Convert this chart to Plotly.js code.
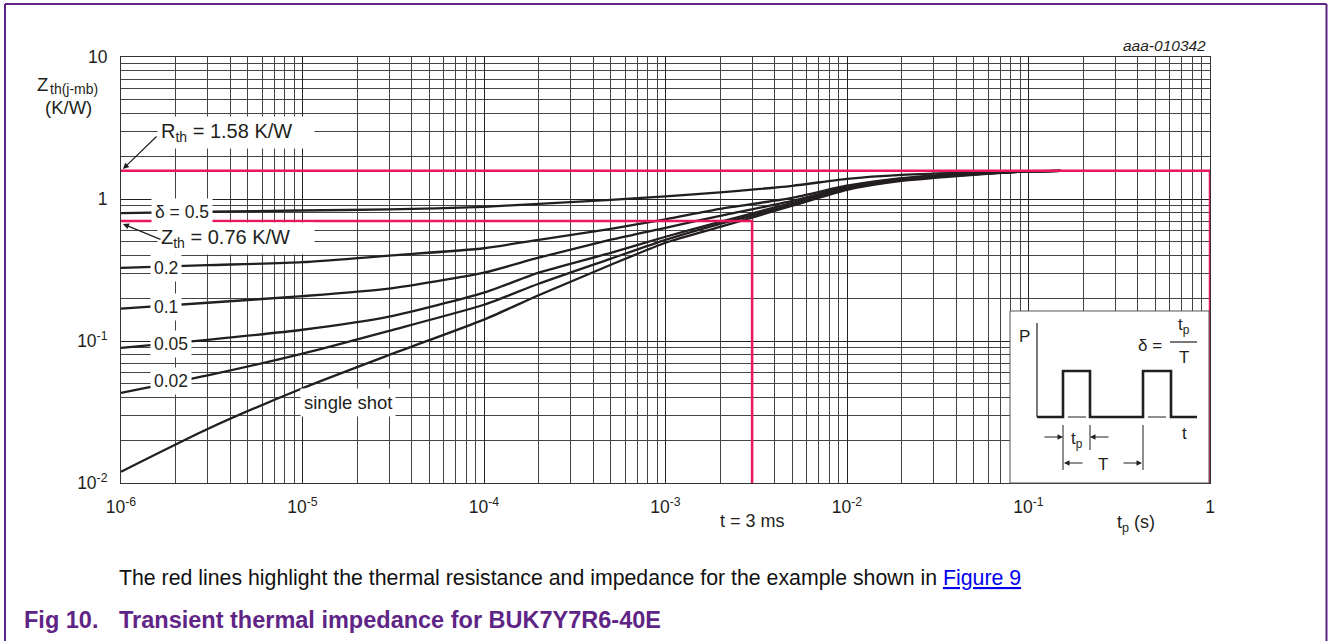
<!DOCTYPE html>
<html>
<head>
<meta charset="utf-8">
<script src="https://cdn.plot.ly/plotly-3.0.1.min.js"></script>
<style>
html,body{margin:0;padding:0;background:#fff;}
#chart{width:1328px;height:641px;}
</style>
</head>
<body>
<div id="chart"></div>
<script>
// ---- data ----
const tp = [1e-6, 3e-6, 1e-5, 3e-5, 1e-4, 2e-4, 5e-4, 1e-3, 2e-3, 5e-3, 1e-2, 2e-2, 5e-2, 1e-1, 1.5e-1];
const zSingleShot = [0.0120, 0.0240, 0.0465, 0.0797, 0.1415, 0.210, 0.344, 0.492, 0.637, 0.896, 1.16, 1.34, 1.48, 1.566, 1.58];
const zDelta002  = [0.0431, 0.0572, 0.0815, 0.118, 0.180, 0.253, 0.380, 0.516, 0.669, 0.910, 1.18, 1.36, 1.49, 1.566, 1.58];
const zDelta005  = [0.0894, 0.102, 0.120, 0.1485, 0.219, 0.303, 0.418, 0.542, 0.691, 0.940, 1.20, 1.38, 1.50, 1.566, 1.58];
const zDelta01   = [0.169, 0.186, 0.207, 0.234, 0.303, 0.386, 0.517, 0.627, 0.762, 0.970, 1.22, 1.39, 1.50, 1.566, 1.58];
const zDelta02   = [0.327, 0.342, 0.359, 0.399, 0.450, 0.516, 0.617, 0.720, 0.853, 1.02, 1.24, 1.40, 1.52, 1.566, 1.58];
const zDelta05   = [0.796, 0.813, 0.830, 0.844, 0.881, 0.925, 0.987, 1.044, 1.115, 1.239, 1.387, 1.479, 1.54, 1.57, 1.58];

const rthValue = 1.58;          // K/W
const zthLineValue = 0.70;      // level of the lower red line as drawn
const tExample = 3e-3;          // s
const tpMin = 1e-6, tpMax = 1;
const zMin = 0.01;

const xTickVals = [1e-6, 1e-5, 1e-4, 1e-3, 1e-2, 1e-1, 1];
const xTickText = ['10<sup>-6</sup>', '10<sup>-5</sup>', '10<sup>-4</sup>', '10<sup>-3</sup>', '10<sup>-2</sup>', '10<sup>-1</sup>', '1'];
const yTickVals = [0.01, 0.1, 1, 10];
const yTickText = ['10<sup>-2</sup>', '10<sup>-1</sup>', '1', '10'];

// ---- layout helpers (pixel -> paper) ----
const X0 = 121, X1 = 1210, Y0 = 57, Y1 = 483;
const px = x => (x - X0) / (X1 - X0);
const py = y => (Y1 - y) / (Y1 - Y0);

const FONT = 'Arial, "Liberation Sans", sans-serif';
const INK = '#231f20';
const RED = '#e8185a';
const PURPLE = '#5f2586';

const curveStyle = {color: INK, width: 2.3, shape: 'spline', smoothing: 0.6};
const series = [zSingleShot, zDelta002, zDelta005, zDelta01, zDelta02, zDelta05];
const traces = series.map(v => ({
  x: tp, y: v, type: 'scatter', mode: 'lines', line: curveStyle, hoverinfo: 'skip', showlegend: false
}));
traces.push({x: [tpMin, tpMax, tpMax], y: [rthValue, rthValue, zMin], type: 'scatter', mode: 'lines',
  line: {color: RED, width: 2.5}, hoverinfo: 'skip', showlegend: false});
traces.push({x: [tpMin, tExample, tExample], y: [zthLineValue, zthLineValue, zMin], type: 'scatter', mode: 'lines',
  line: {color: RED, width: 2.5}, hoverinfo: 'skip', showlegend: false});

function label(text, x, y, opts) {
  return Object.assign({
    text: text, xref: 'paper', yref: 'paper', x: px(x), y: py(y),
    xanchor: 'center', yanchor: 'middle', showarrow: false,
    font: {family: FONT, size: 17.5, color: INK}
  }, opts || {});
}
function arrow(hx, hy, tx, ty, w) {
  return {text: '', xref: 'paper', yref: 'paper', x: px(hx), y: py(hy),
    ax: tx - hx, ay: ty - hy, showarrow: true, arrowhead: 2, arrowsize: 1,
    arrowwidth: w || 1.2, arrowcolor: INK, standoff: 0};
}
const boxed = {bgcolor: '#ffffff', borderpad: 3};
const f = s => ({family: FONT, size: s, color: INK});

const annotations = [
  label('Z', 35, 85, {xanchor: 'left', font: f(18.5)}),
  label('th(j-mb)', 48, 89, {xanchor: 'left', font: f(14)}),
  label('(K/W)', 68, 107, {font: f(18.5)}),
  label('<i>aaa-010342</i>', 1208, 45, {xanchor: 'right', font: f(15.5)}),
  label('R<sub>th</sub> = 1.58 K/W', 157, 132, Object.assign({xanchor: 'left', width: 150, align: 'left', font: f(20)}, boxed)),
  label('Z<sub>th</sub> = 0.76 K/W', 157, 238, Object.assign({xanchor: 'left', width: 150, align: 'left', font: f(20)}, boxed)),
  label('δ = 0.5', 182, 212, boxed),
  label('0.2', 166, 268, boxed),
  label('0.1', 166, 307, boxed),
  label('0.05', 171, 344, boxed),
  label('0.02', 171, 381, boxed),
  label('single shot', 348, 402, Object.assign({font: f(18.5)}, boxed)),
  arrow(123, 169, 158, 135),
  arrow(123, 224, 162, 240),
  label('t = 3 ms', 752, 521, {font: f(18)}),
  label('t<sub>p</sub> (s)', 1136, 523, {font: f(18)}),
  // inset texts
  label('P', 1024, 336, {font: f(17)}),
  label('δ =', 1150, 345, {font: f(17)}),
  label('t<sub>p</sub>', 1184, 326, {font: f(17)}),
  label('T', 1184, 357, {font: f(17)}),
  label('t', 1184, 433, {font: f(17)}),
  label('t<sub>p</sub>', 1077, 440, {font: f(17)}),
  label('T', 1103, 464, {font: f(17)}),
  arrow(1063, 437, 1043, 437, 1.1),
  arrow(1090, 437, 1110, 437, 1.1),
  arrow(1064, 463, 1084, 463, 1.1),
  arrow(1142, 463, 1122, 463, 1.1),
  // notes below
  label('The red lines highlight the thermal resistance and impedance for the example shown in <span style="color:#0000ee"><u>Figure 9</u></span>',
        117, 578, {xanchor: 'left', font: {family: FONT, size: 21.3, color: '#111'}}),
  label('<b>Fig 10.</b>', 22, 620, {xanchor: 'left', font: {family: FONT, size: 23.5, color: PURPLE}}),
  label('<b>Transient thermal impedance for BUK7Y7R6-40E</b>', 117, 620, {xanchor: 'left', font: {family: FONT, size: 23.5, color: PURPLE}})
];

function P(x, y) { return px(x).toFixed(5) + ',' + py(y).toFixed(5); }
const shapes = [
  // inset box
  {type: 'rect', xref: 'paper', yref: 'paper', x0: px(1010), x1: px(1209), y0: py(483), y1: py(311),
   fillcolor: '#ffffff', line: {color: '#555', width: 1}, layer: 'above'},
  // inset P axis
  {type: 'line', xref: 'paper', yref: 'paper', x0: px(1037), x1: px(1037), y0: py(323), y1: py(417),
   line: {color: INK, width: 1.2}},
  // pulse train
  {type: 'path', xref: 'paper', yref: 'paper',
   path: 'M' + P(1037, 417) + ' L' + P(1063, 417) + ' L' + P(1063, 371) + ' L' + P(1090, 371) + ' L' + P(1090, 417) +
         ' L' + P(1143, 417) + ' L' + P(1143, 371) + ' L' + P(1171, 371) + ' L' + P(1171, 417) + ' L' + P(1197, 417),
   line: {color: INK, width: 2.6}},
  {type: 'line', xref: 'paper', yref: 'paper', x0: px(1068), x1: px(1086), y0: py(417), y1: py(417), line: {color: INK, width: 1}},
  {type: 'line', xref: 'paper', yref: 'paper', x0: px(1148), x1: px(1166), y0: py(417), y1: py(417), line: {color: INK, width: 1}},
  // fraction bar
  {type: 'line', xref: 'paper', yref: 'paper', x0: px(1170), x1: px(1197), y0: py(342), y1: py(342), line: {color: INK, width: 1.2}},
  // dimension lines
  {type: 'line', xref: 'paper', yref: 'paper', x0: px(1063), x1: px(1063), y0: py(425), y1: py(470), line: {color: INK, width: 1}},
  {type: 'line', xref: 'paper', yref: 'paper', x0: px(1090), x1: px(1090), y0: py(425), y1: py(450), line: {color: INK, width: 1}},
  {type: 'line', xref: 'paper', yref: 'paper', x0: px(1143), x1: px(1143), y0: py(425), y1: py(470), line: {color: INK, width: 1}},
  // page frame
  {type: 'line', xref: 'paper', yref: 'paper', x0: px(5), x1: px(5), y0: py(4), y1: py(650), line: {color: PURPLE, width: 2}},
  {type: 'line', xref: 'paper', yref: 'paper', x0: px(5), x1: px(1326.5), y0: py(4), y1: py(4), line: {color: PURPLE, width: 2}},
  {type: 'line', xref: 'paper', yref: 'paper', x0: px(1326.5), x1: px(1326.5), y0: py(4), y1: py(650), line: {color: PURPLE, width: 2}}
];

const axisCommon = {
  type: 'log', showgrid: true, gridcolor: '#222', gridwidth: 1,
  minor: {dtick: 'D1', showgrid: true, gridcolor: '#444', gridwidth: 1, ticks: ''},
  showline: true, linecolor: '#333', linewidth: 1, mirror: true, zeroline: false,
  ticks: '', tickmode: 'array', ticklabelstandoff: 8,
  tickfont: f(17.5), fixedrange: true
};

const layout = {
  width: 1328, height: 641,
  margin: {l: 121, r: 118, t: 57, b: 158, pad: 0},
  paper_bgcolor: '#ffffff', plot_bgcolor: '#ffffff',
  font: {family: FONT, color: INK},
  showlegend: false,
  xaxis: Object.assign({}, axisCommon, {range: [-6, 0], tickvals: xTickVals, ticktext: xTickText}),
  yaxis: Object.assign({}, axisCommon, {range: [-2, 1], tickvals: yTickVals, ticktext: yTickText, ticklabelstandoff: 9}),
  annotations: annotations,
  shapes: shapes
};

Plotly.newPlot('chart', traces, layout, {staticPlot: true, displayModeBar: false});
</script>
</body>
</html>
